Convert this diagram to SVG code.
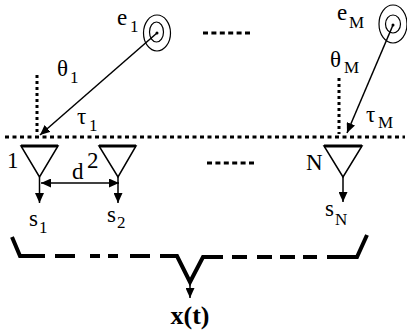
<svg xmlns="http://www.w3.org/2000/svg" width="407" height="336" viewBox="0 0 407 336">
<style>
.t{font-family:"Liberation Serif","Times New Roman",serif;font-size:23px;fill:#000}
.s{font-family:"Liberation Serif","Times New Roman",serif;font-size:17px;fill:#000}
.b{font-family:"Liberation Serif","Times New Roman",serif;font-size:26px;font-weight:bold;fill:#000}
.ln{stroke:#000;stroke-width:1.5;fill:none}
.dot{stroke:#000;stroke-width:3;fill:none}
.br{stroke:#000;stroke-width:4;fill:none}
.tri{stroke:#000;stroke-width:1.5;fill:none}
.bar{stroke:#000;stroke-width:3}
.ring{stroke:#000;stroke-width:1.2;fill:none}
</style>
<defs>
<marker id="ah" markerUnits="userSpaceOnUse" markerWidth="11" markerHeight="9" refX="10" refY="4.5" orient="auto-start-reverse">
<path d="M0,0 L10,4.5 L0,9 z" fill="#000"/>
</marker>
</defs>
<rect width="407" height="336" fill="#fff"/>

<g id="array-axis">
<line class="dot" x1="5" y1="137" x2="405" y2="137" stroke-dasharray="4 3.5"/>
</g>

<g id="ellipsis-top">
<line class="dot" x1="203" y1="33" x2="253" y2="33" stroke-dasharray="5 3.4"/>
</g>
<g id="ellipsis-mid">
<line class="dot" x1="207" y1="163" x2="257" y2="163" stroke-dasharray="5 3.4"/>
</g>

<g id="source-e1">
<ellipse class="ring" cx="157" cy="33" rx="13.5" ry="18"/>
<ellipse class="ring" cx="156.5" cy="32" rx="7" ry="10"/>
<circle cx="157" cy="33" r="1.5" fill="#000"/>
<text class="t" x="117" y="25">e</text><text class="s" x="130" y="32">1</text>
</g>

<g id="source-eM">
<ellipse class="ring" cx="393" cy="24" rx="14" ry="19"/>
<ellipse class="ring" cx="393" cy="24" rx="7.5" ry="9"/>
<circle cx="393" cy="25" r="1.5" fill="#000"/>
<text class="t" x="337" y="20">e</text><text class="s" x="349" y="28">M</text>
</g>

<g id="normal-1">
<line class="dot" x1="37" y1="75" x2="37" y2="134" stroke-dasharray="3 3"/>
<text class="t" x="57" y="76">θ</text><text class="s" x="70" y="83">1</text>
<text class="t" x="77" y="124">τ</text><text class="s" x="89" y="131">1</text>
</g>

<g id="normal-M">
<line class="dot" x1="339" y1="78" x2="339" y2="134" stroke-dasharray="3 3"/>
<text class="t" x="330" y="67">θ</text><text class="s" x="344" y="73">M</text>
<text class="t" x="366" y="122">τ</text><text class="s" x="378" y="128">M</text>
</g>

<g id="sensor-1">
<polygon class="tri" points="21,146 58,146 39.5,177"/>
<line class="bar" x1="21" y1="146" x2="58" y2="146"/>
<text class="t" x="7" y="168">1</text>
<text class="t" x="29" y="226">s</text><text class="s" x="39" y="233">1</text>
</g>

<g id="sensor-2">
<polygon class="tri" points="99,146 136,146 118,177"/>
<line class="bar" x1="99" y1="146" x2="136" y2="146"/>
<text class="t" x="87" y="168">2</text>
<text class="t" x="107" y="222">s</text><text class="s" x="117" y="228">2</text>
</g>

<g id="sensor-N">
<polygon class="tri" points="324,146 362,146 343,177"/>
<line class="bar" x1="324" y1="146" x2="362" y2="146"/>
<text class="t" x="306" y="170">N</text>
<text class="t" x="325" y="216">s</text><text class="s" x="335" y="225">N</text>
</g>

<g id="spacing-d">
<text class="t" x="72" y="179">d</text>
</g>

<g id="output-x">
<text class="b" x="190" y="324" text-anchor="middle">x(t)</text>
</g>

<g id="connectors">
<line class="ln" x1="157" y1="33" x2="40" y2="135" marker-end="url(#ah)"/>
<line class="ln" x1="393" y1="25" x2="347" y2="133" marker-end="url(#ah)"/>
<line class="ln" x1="39.5" y1="177" x2="39.5" y2="203" marker-end="url(#ah)"/>
<line class="ln" x1="118" y1="177" x2="118" y2="203" marker-end="url(#ah)"/>
<line class="ln" x1="343" y1="177" x2="343" y2="202" marker-end="url(#ah)"/>
<line class="ln" x1="41" y1="183" x2="119" y2="183" marker-start="url(#ah)" marker-end="url(#ah)"/>
<path class="br" d="M12,237 L20,256 L45,256 M55,256 L75,256 M90,256 L100,256 M108,256 L118,256 M130,256 L150,256 M160,256 L177,256 L190,282 L203,257 L223,257 M232,257 L247,257 M257,257 L272,257 M280,257 L295,257 M303,257 L317,257 M327,257 L357,257 L367,235"/>
<line class="ln" x1="190" y1="282" x2="190" y2="298" marker-end="url(#ah)"/>
</g>
</svg>
